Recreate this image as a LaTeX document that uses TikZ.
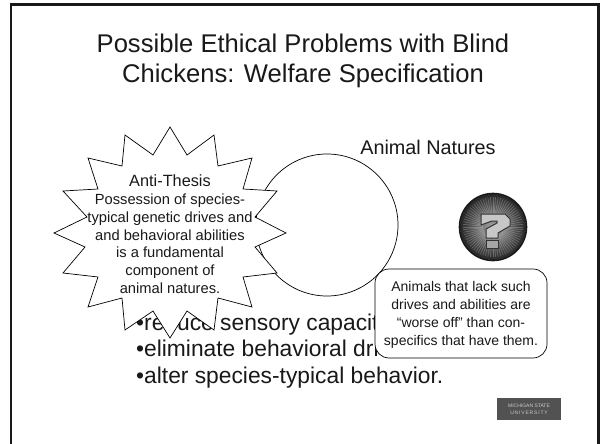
\documentclass[tikz,border=0pt]{standalone}
\usepackage{fontspec}
\setmainfont{Liberation Sans}
\usetikzlibrary{calc}
\tikzset{
  titletext/.style={font=\fontsize{25.6}{30}\selectfont,align=center,text=black!90,inner sep=0pt},
  bullettext/.style={font=\fontsize{22.8}{26}\selectfont,anchor=base west,inner sep=0pt,text=black!90},
  outlined/.style={draw=black,line width=0.7pt,fill=white},
  startext/.style={font=\fontsize{14.7}{18}\selectfont,inner sep=0pt,text=black!90,anchor=base},
}
\begin{document}
\begin{tikzpicture}[x=1pt,y=-1pt]
\useasboundingbox (0,0) rectangle (600,444);
\fill[white] (0,0) rectangle (600,444);
\draw[line width=2.6pt,black!90] (11,444) -- (11,4.5) -- (598.5,4.5) -- (598.5,444);
\node[titletext] (title) at (303,61) {Possible Ethical Problems with Blind\\Chickens: Welfare Specification};
\node[font=\fontsize{19.8}{20}\selectfont,text=black!90,anchor=base,inner sep=0pt] (natures) at (428,154) {Animal Natures};
\node[outlined,circle,minimum size=142pt,inner sep=0pt] (circ) at (327,225) {};
\node[bullettext] (b1) at (136,330) {•reduce sensory capacities};
\node[bullettext] (b2) at (136,356.5) {•eliminate behavioral drives};
\node[bullettext] (b3) at (136,383) {•alter species-typical behavior.};
% star
\draw[outlined,line join=miter,miter limit=10] (170,127)--(187,155)--(214,135)--(218,166)--(252,158)--(243,189)--(277,191)--(255,217)--(286,233)--(255,247)--(277,273)--(243,277)--(252,307)--(218,298)--(214,330)--(187,311)--(170,338)--(153,311)--(125,330)--(122,298)--(88,307)--(98,277)--(63,273)--(85,247)--(54,233)--(87,217)--(63,191)--(98,189)--(88,158)--(122,166)--(125,135)--(153,155)--cycle;
\node[startext,font=\fontsize{16.3}{18}\selectfont] (s0) at (170,186) {Anti-Thesis};
\node[startext] (s1) at (170,204) {Possession of species-};
\node[startext] (s2) at (170,222) {typical genetic drives and};
\node[startext] (s3) at (170,240) {and behavioral abilities};
\node[startext] (s4) at (170,257.5) {is a fundamental};
\node[startext] (s5) at (170,275) {component of};
\node[startext] (s6) at (170,293) {animal natures.};
% question icon
\coordinate (q) at (493,227);
\shade[inner color=black!35,outer color=black!85] (q) circle (33);
\foreach \a in {0,5,...,355}{\draw[white,opacity=.22,line width=.7pt] ($(q)+(\a:10)$) -- ($(q)+(\a:30)$);}
\draw[black!90,line width=1.6pt] (q) circle (33.5);
\draw[black!80,line width=1pt,line join=round,fill=black!22] (481,214)--(505,214)--(510,219)--(510,226)--(498,233)--(498,238)--(486,238)--(486,229)--(497,223)--(497,221)--(492,221)--(481,225)--cycle;
\draw[black!80,line width=1pt,fill=black!35] (486,240) rectangle (498,248);
% callout
\node[draw=black,line width=0.7pt,fill=white,rounded corners=14pt,minimum width=172pt,minimum height=89pt,inner sep=0pt] (box) at (461,313.5) {};
\node[font=\fontsize{14}{18}\selectfont,align=center,text=black!90,inner sep=0pt] (boxtext) at (461,315) {Animals that lack such\\drives and abilities are\\“worse off” than con-\\specifics that have them.};
% logo
\node[fill=black!68,text=white!80!black,minimum width=64pt,minimum height=22pt,inner sep=0pt,align=center,font=\fontsize{5}{7}\selectfont] (logo) at (529,409) {MICHIGAN STATE\\U\,N\,I\,V\,E\,R\,S\,I\,T\,Y};
\end{tikzpicture}
\end{document}
